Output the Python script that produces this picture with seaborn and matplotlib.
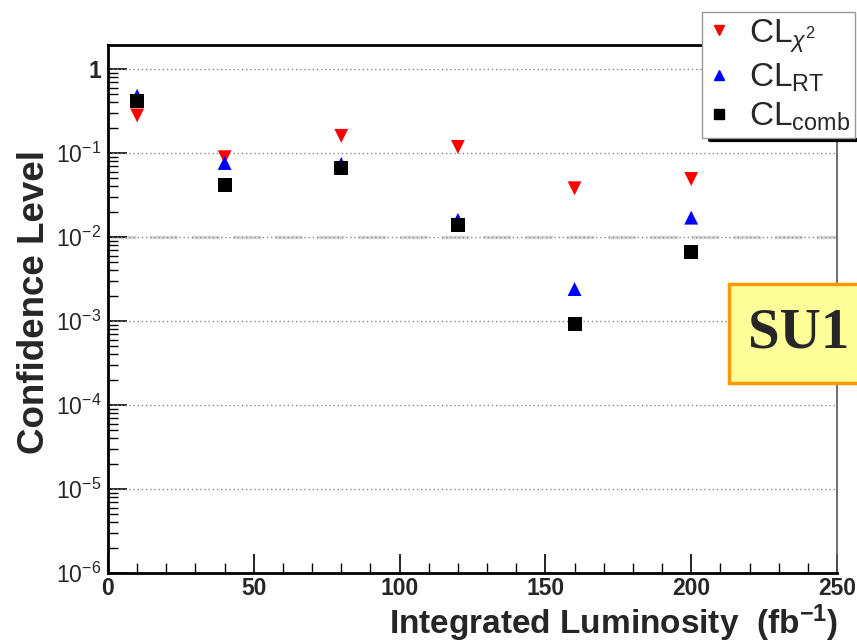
import matplotlib
matplotlib.use("Agg")
import matplotlib.pyplot as plt
from matplotlib.lines import Line2D
from matplotlib.patches import Rectangle
from matplotlib.ticker import FixedLocator, LogLocator, MultipleLocator, NullFormatter
import numpy as np
import pandas as pd
import seaborn as sns

# Integrated luminosity points (fb^-1)
luminosity = [10, 40, 80, 120, 160, 200]
# Confidence levels for each test statistic
cl_chi2 = [0.28, 0.089, 0.16, 0.118, 0.038, 0.049]
cl_rt = [0.48, 0.076, 0.074, 0.016, 0.0024, 0.017]
cl_comb = [0.42, 0.042, 0.066, 0.014, 0.00092, 0.0066]

series_names = ["chi2", "RT", "comb"]
series_labels = [r"$\mathrm{CL}_{\chi^{2}}$", r"$\mathrm{CL}_{\mathrm{RT}}$",
                 r"$\mathrm{CL}_{\mathrm{comb}}$"]
series_colors = ["#ff0000", "#0000ff", "#000000"]
series_markers = ["v", "^", "s"]

y_ticks = [1e-6, 1e-5, 1e-4, 1e-3, 1e-2, 1e-1, 1]
y_ticklabels = [r"$10^{-6}$", r"$10^{-5}$", r"$10^{-4}$", r"$10^{-3}$",
                r"$10^{-2}$", r"$10^{-1}$", "1"]
x_ticks = [0, 50, 100, 150, 200, 250]

df = pd.DataFrame({
    "lumi": luminosity * 3,
    "cl": cl_chi2 + cl_rt + cl_comb,
    "series": [s for s in series_names for _ in luminosity],
})

sns.set_theme(style="white")
plt.rcParams["font.family"] = ["Liberation Sans", "DejaVu Sans"]
plt.rcParams["mathtext.fontset"] = "custom"
plt.rcParams["mathtext.rm"] = "Liberation Sans"
plt.rcParams["mathtext.it"] = "Liberation Sans:italic"
plt.rcParams["mathtext.bf"] = "Liberation Sans:bold"

fig = plt.figure(figsize=(8.57, 6.44), dpi=100)
W, H = 857, 644
ax = fig.add_axes([108 / W, 1 - 573 / H, (837 - 108) / W, (573 - 45) / H])

sns.scatterplot(data=df, x="lumi", y="cl", hue="series", style="series",
                hue_order=series_names, style_order=series_names,
                palette=dict(zip(series_names, series_colors)),
                markers=dict(zip(series_names, series_markers)),
                s=100, edgecolor="none", legend=False, ax=ax, zorder=5)

ax.set_yscale("log")
ax.set_ylim(1e-6, 1.93)
ax.set_xlim(0, 250)

# horizontal decade grid
for yv in y_ticks[1:]:
    ax.axhline(yv, color="#888888", lw=1.0, ls=(0, (1, 2)), zorder=1)
ax.axhline(1e-2, color="#d8d8d8", lw=2.5, ls=(0, (8, 4)), zorder=0.5)

ax.yaxis.set_major_locator(FixedLocator(y_ticks))
ax.set_yticklabels(y_ticklabels)
ax.yaxis.set_minor_locator(LogLocator(base=10, subs=np.arange(2, 10)))
ax.yaxis.set_minor_formatter(NullFormatter())
ax.xaxis.set_major_locator(FixedLocator(x_ticks))
ax.set_xticklabels([str(v) for v in x_ticks])
ax.xaxis.set_minor_locator(MultipleLocator(10))

ax.tick_params(axis="both", which="major", direction="in", length=14, width=1.2,
               labelsize=16.5, color="black", pad=5)
ax.tick_params(axis="x", which="major", pad=3)
ax.tick_params(axis="both", which="minor", direction="in", length=7, width=1.0,
               color="black")
ax.tick_params(axis="y", which="both", left=True, right=False)
ax.tick_params(axis="x", which="both", bottom=True, top=False)
for lab in ax.get_xticklabels() + ax.get_yticklabels():
    lab.set_fontweight("bold")

for side in ["left", "bottom", "top"]:
    ax.spines[side].set_color("black")
    ax.spines[side].set_linewidth(2.0)
ax.spines["right"].set_color("#555555")
ax.spines["right"].set_linewidth(1.2)

ax.set_xlabel("")
ax.set_ylabel("")
fig.text(35 / W, 1 - 302 / H, "Confidence Level", rotation=90, ha="center",
         va="center", fontsize=26.5, fontweight="bold")
fig.text(838 / W, 1 - 634 / H, r"Integrated Luminosity  (fb$^{\mathbf{-1}}$)",
         ha="right", va="baseline", fontsize=24, fontweight="bold")

# legend
handles = [Line2D([], [], ls="none", marker=m, color=c, markersize=7)
           for m, c in zip(series_markers, series_colors)]
leg = fig.legend(handles, series_labels, loc="upper left",
                 bbox_to_anchor=(702 / W, 1 - 12 / H), fontsize=24,
                 frameon=True, fancybox=False, framealpha=1,
                 handlelength=0.7, handletextpad=0.55, labelspacing=0.2,
                 borderpad=0.15, borderaxespad=0)
leg.get_frame().set_edgecolor("#999999")
leg.get_frame().set_linewidth(1.0)
fig.add_artist(Line2D([710 / W, 1.0], [1 - 140 / H, 1 - 140 / H],
                      color="black", lw=3, transform=fig.transFigure))

# sample tag
fig.add_artist(Rectangle((729 / W, 1 - 383 / H), 140 / W, 99 / H,
                         transform=fig.transFigure, facecolor="#ffff99",
                         edgecolor="#ff9900", lw=2.5, zorder=10))
fig.text(748 / W, 1 - 334 / H, "SU1", ha="left", va="center", fontsize=41,
         fontweight="bold", family=["Liberation Serif", "DejaVu Serif"],
         zorder=11)

fig.savefig("out.png", dpi=100)
